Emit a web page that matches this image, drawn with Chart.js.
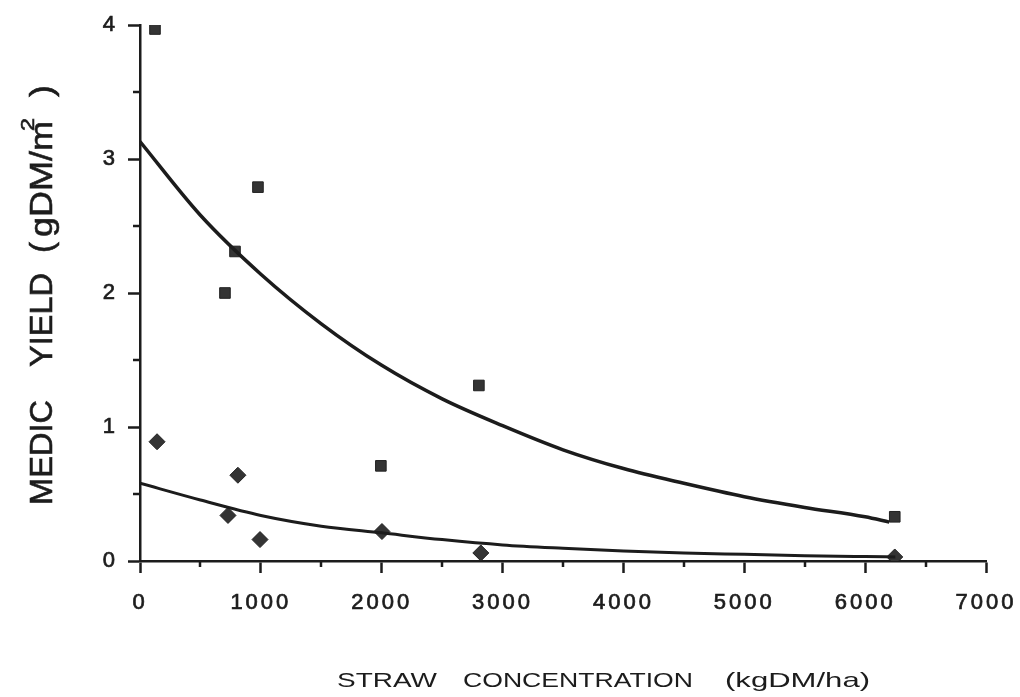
<!DOCTYPE html>
<html>
<head>
<meta charset="utf-8">
<title>Medic yield vs straw concentration</title>
<script src="https://cdn.jsdelivr.net/npm/chart.js@4.4.1/dist/chart.umd.min.js"></script>
<style>
  body { margin: 0; background: #fff; }
  #wrap { width: 1020px; height: 697px; }
</style>
</head>
<body>
<div id="wrap"><canvas id="medicChart" width="1020" height="697"></canvas></div>
<script>
// Observed points (square markers)
const squareX = [124, 703, 786, 976, 1993, 2804, 6245];
const squareY = [3.97, 2.0, 2.31, 2.79, 0.71, 1.31, 0.33];

// Observed points (diamond markers)
const diamondX = [141, 728, 810, 993, 2002, 2820, 6245];
const diamondY = [0.89, 0.34, 0.64, 0.16, 0.22, 0.06, 0.03];

// Fitted curves
const upperCurveX = [0, 500, 1000, 1500, 2000, 2500, 3000, 3500, 4000, 4500, 5000, 5500, 6000, 6200];
const upperCurveY = [3.13, 2.58, 2.14, 1.77, 1.46, 1.21, 1.01, 0.83, 0.69, 0.58, 0.48, 0.40, 0.33, 0.29];
const lowerCurveX = [0, 500, 1000, 1500, 2000, 2500, 3000, 3500, 4000, 4500, 5000, 5500, 6000, 6250];
const lowerCurveY = [0.58, 0.455, 0.34, 0.26, 0.21, 0.16, 0.12, 0.095, 0.075, 0.06, 0.05, 0.04, 0.033, 0.03];

// Axis ticks
const xMajorTicks = [0, 1000, 2000, 3000, 4000, 5000, 6000, 7000];
const xMinorTicks = [500, 1500, 2500, 3500, 4500, 5500, 6500];
const yMajorTicks = [0, 1, 2, 3, 4];
const yMinorTicks = [0.5, 1.5, 2.5, 3.5];

const ink = '#1c1c1c';
const markFill = '#343434';

function toPoints(xs, ys) {
  return xs.map((x, i) => ({ x: x, y: ys[i] }));
}

// Minor tick marks outside the axes
const minorTicks = {
  id: 'minorTicks',
  afterDraw(chart) {
    const { ctx, scales: { x, y } } = chart;
    ctx.save();
    ctx.strokeStyle = ink;
    ctx.lineWidth = 2.5;
    ctx.beginPath();
    xMinorTicks.forEach(v => {
      const px = Math.round(x.getPixelForValue(v));
      ctx.moveTo(px, x.top);
      ctx.lineTo(px, x.top + 6);
    });
    yMinorTicks.forEach(v => {
      const py = Math.round(y.getPixelForValue(v));
      ctx.moveTo(y.right, py);
      ctx.lineTo(y.right - 7, py);
    });
    ctx.stroke();
    ctx.restore();
  }
};

// Wide tick digits like the original print
const tickSpacing = {
  id: 'tickSpacing',
  beforeDraw(chart) {
    chart.ctx.letterSpacing = '3px';
  },
  afterDraw(chart) {
    chart.ctx.letterSpacing = '0px';
  }
};

// draw a word stretched to fit between a and b
function fitText(ctx, text, a, b, bold) {
  const w = ctx.measureText(text).width;
  ctx.save();
  ctx.scale((b - a) / w, 1);
  ctx.fillText(text, 0, 0);
  if (bold) ctx.strokeText(text, 0, 0);
  ctx.restore();
}

const axisTitles = {
  id: 'axisTitles',
  afterDraw(chart) {
    const ctx = chart.ctx;
    ctx.save();
    ctx.letterSpacing = '0px';
    ctx.fillStyle = ink;
    ctx.strokeStyle = ink;
    ctx.lineWidth = 0.6;
    ctx.textBaseline = 'alphabetic';
    ctx.textAlign = 'left';

    // x title
    ctx.font = '21px "Liberation Sans", Arial, sans-serif';
    [['STRAW', 337, 437], ['CONCENTRATION', 463, 693], ['(kgDM/ha)', 725, 870]].forEach(p => {
      ctx.save();
      ctx.translate(p[1], 687);
      fitText(ctx, p[0], p[1], p[2], false);
      ctx.restore();
    });

    // y title, read bottom to top
    const yParts = [
      ['MEDIC', 505, 400, 52, 31],
      ['YIELD', 367, 273, 52, 31],
      ['(', 253, 242, 52, 31],
      ['gDM/m', 237, 121, 52, 31],
      ['2', 131, 118, 34, 19],
      [')', 97, 85, 52, 31]
    ];
    yParts.forEach(p => {
      ctx.save();
      ctx.font = p[4] + 'px "Liberation Sans", Arial, sans-serif';
      ctx.translate(p[3], p[1]);
      ctx.rotate(-Math.PI / 2);
      fitText(ctx, p[0], p[2], p[1], true);
      ctx.restore();
    });
    ctx.restore();
  }
};

const tickFont = { family: '"Liberation Sans", Arial, sans-serif', size: 22 };

new Chart(document.getElementById('medicChart'), {
  type: 'scatter',
  data: {
    datasets: [
      {
        label: 'Upper fit',
        data: toPoints(upperCurveX, upperCurveY),
        showLine: true,
        borderColor: ink,
        borderWidth: 3.5,
        pointRadius: 0,
        cubicInterpolationMode: 'monotone'
      },
      {
        label: 'Lower fit',
        data: toPoints(lowerCurveX, lowerCurveY),
        showLine: true,
        borderColor: ink,
        borderWidth: 3,
        pointRadius: 0,
        cubicInterpolationMode: 'monotone'
      },
      {
        label: 'Squares',
        data: toPoints(squareX, squareY),
        pointStyle: 'rect',
        pointRadius: 7.5,
        backgroundColor: markFill,
        borderColor: '#222',
        borderWidth: 1
      },
      {
        label: 'Diamonds',
        data: toPoints(diamondX, diamondY),
        pointStyle: 'rectRot',
        pointRadius: 8,
        backgroundColor: markFill,
        borderColor: '#222',
        borderWidth: 1
      }
    ]
  },
  options: {
    responsive: false,
    animation: false,
    layout: { padding: { top: 25, right: 34, left: 0, bottom: 0 } },
    plugins: {
      legend: { display: false },
      tooltip: { enabled: false }
    },
    scales: {
      x: {
        type: 'linear',
        min: 0,
        max: 7000,
        afterFit: scale => {
          scale.height = 136;
          scale.paddingLeft = 0;
          scale.paddingRight = 0;
        },
        afterBuildTicks: scale => { scale.ticks = xMajorTicks.map(v => ({ value: v })); },
        border: { color: ink, width: 2.5 },
        grid: { drawOnChartArea: false, tickLength: 12, tickWidth: 2.5, tickColor: ink },
        ticks: {
          color: ink, font: tickFont, padding: 17, maxRotation: 0, autoSkip: false,
          textStrokeColor: ink, textStrokeWidth: 0.7,
          callback: v => String(v)
        }
      },
      y: {
        type: 'linear',
        min: 0,
        max: 4,
        afterFit: scale => {
          scale.width = 140;
          scale.paddingTop = 0;
          scale.paddingBottom = 0;
        },
        afterBuildTicks: scale => { scale.ticks = yMajorTicks.map(v => ({ value: v })); },
        border: { color: ink, width: 2.5 },
        grid: { drawOnChartArea: false, tickLength: 12, tickWidth: 2.5, tickColor: ink },
        ticks: {
          color: ink, font: tickFont, padding: 10,
          textStrokeColor: ink, textStrokeWidth: 0.7,
          callback: v => String(v)
        }
      }
    }
  },
  plugins: [tickSpacing, minorTicks, axisTitles]
});
</script>
</body>
</html>
